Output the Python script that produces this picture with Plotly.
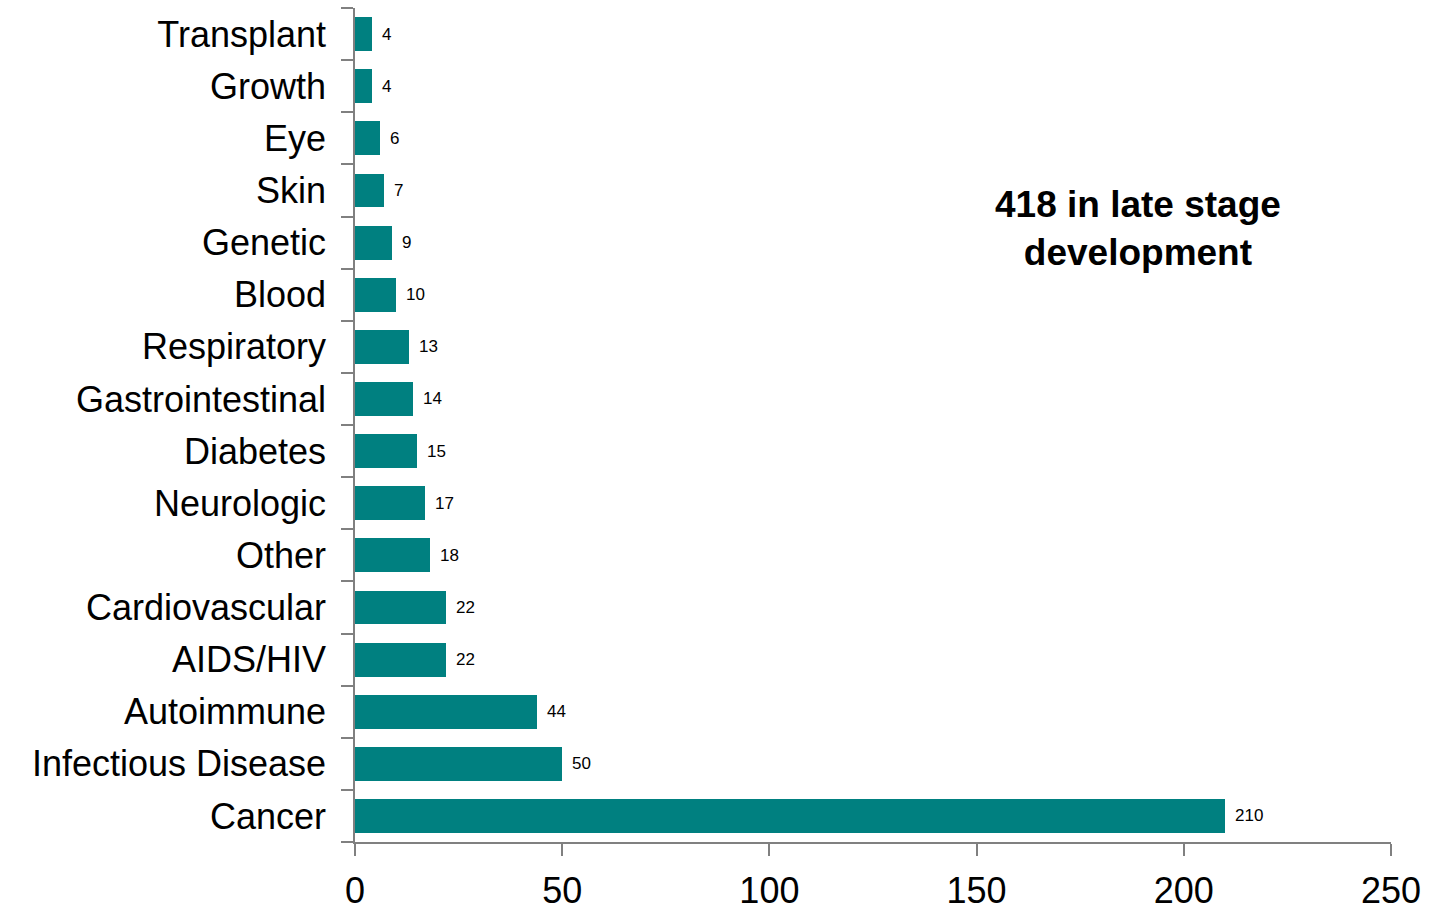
import plotly.graph_objects as go

categories = ["Cancer", "Infectious Disease", "Autoimmune", "AIDS/HIV", "Cardiovascular",
              "Other", "Neurologic", "Diabetes", "Gastrointestinal", "Respiratory",
              "Blood", "Genetic", "Skin", "Eye", "Growth", "Transplant"]
values = [210, 50, 44, 22, 22, 18, 17, 15, 14, 13, 10, 9, 7, 6, 4, 4]
x_ticks = [0, 50, 100, 150, 200, 250]
note_lines = ["418 in late stage", "development"]

FONT = "Liberation Sans, Arial, sans-serif"
GRAY = "#808080"

fig = go.Figure()
fig.add_trace(go.Bar(
    x=values, y=categories, orientation="h",
    marker=dict(color="#008080", line=dict(width=0)),
    width=0.65,
))

for v, c in zip(values, categories):
    fig.add_annotation(x=v, y=c, text=str(v), showarrow=False,
                       xanchor="left", yanchor="middle", xshift=8,
                       font=dict(family=FONT, size=17, color="black"))

fig.add_annotation(x=0.756, y=0.736, xref="paper", yref="paper",
                   text="<br>".join(f"<b>{t}</b>" for t in note_lines),
                   showarrow=False, xanchor="center", yanchor="middle",
                   font=dict(family=FONT, size=37, color="black"))

fig.update_layout(
    width=1434, height=912,
    margin=dict(l=355, r=43, t=8, b=70, autoexpand=False),
    plot_bgcolor="white", paper_bgcolor="white",
    showlegend=False,
    bargap=0,
    xaxis=dict(range=[0, 250], tickvals=x_ticks, showgrid=False, zeroline=False,
               automargin=False,
               showline=True, linecolor=GRAY, linewidth=1.5,
               ticks="outside", ticklen=12, tickwidth=1.5, tickcolor=GRAY,
               ticklabelstandoff=4,
               tickfont=dict(family=FONT, size=36, color="black")),
    yaxis=dict(categoryorder="array", categoryarray=categories,
               range=[-0.5, len(categories) - 0.5],
               showgrid=False, zeroline=False, automargin=False,
               showline=True, linecolor=GRAY, linewidth=1.5,
               ticks="outside", ticklen=12, tickwidth=1.5, tickcolor=GRAY,
               tickson="boundaries", ticklabelstandoff=20,
               tickfont=dict(family=FONT, size=36, color="black")),
)

fig.write_html("out.html")
